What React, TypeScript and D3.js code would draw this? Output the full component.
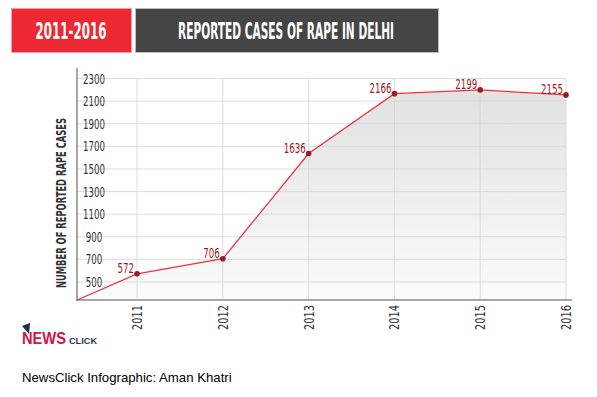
import React from 'react'
import * as d3 from 'd3'

const years = [2011, 2012, 2013, 2014, 2015, 2016]
const cases = [572, 706, 1636, 2166, 2199, 2155]
const yTicks = [500, 700, 900, 1100, 1300, 1500, 1700, 1900, 2100, 2300]

const condensed = "'Liberation Sans Narrow', 'DejaVu Sans Condensed', 'Roboto', sans-serif"

// squeeze digits to the narrow look of the original
const digitWidth = (s: string | number, w: number) => String(s).length * w

const App = () => {
  const W = 597
  const H = 397
  const left = 77
  const right = 566
  const top = 78.5
  const bottom = 300

  // first year sits a bit in from the axis
  const x = d3.scaleLinear().domain([2010.3, 2016]).range([left, right])
  const y = d3.scaleLinear().domain([500, 2300]).range([282, top])

  const pts: [number, number][] = years.map((yr, i) => [x(yr), y(cases[i])])
  // line begins at the origin of the axes
  const path: [number, number][] = [[left, bottom], ...pts]

  const line = d3.line<[number, number]>()
  const area = d3
    .area<[number, number]>()
    .x((d) => d[0])
    .y0(bottom)
    .y1((d) => d[1])

  const darkRed = '#9a1c20'

  return (
    <svg
      width={W}
      height={H}
      style={{ position: 'absolute', left: 0, top: 0, background: '#fff' }}
    >
      <defs>
        <linearGradient id="fade" gradientUnits="userSpaceOnUse" x1="0" y1={top} x2="0" y2={bottom}>
          <stop offset="0" stopColor="#e0e0e0" />
          <stop offset="1" stopColor="#fbfbfb" />
        </linearGradient>
      </defs>

      {/* header */}
      <rect x={11.5} y={8.5} width={120} height={44} fill="#ec2833" stroke="#f5a0a5" />
      <text
        x={71}
        y={39}
        textAnchor="middle"
        fill="#fff"
        fontFamily={condensed}
        fontWeight="bold"
        fontSize={23}
        textLength={71}
        lengthAdjust="spacingAndGlyphs"
      >
        2011-2016
      </text>
      <rect x={135.5} y={8.5} width={303} height={44} fill="#454545" stroke="#bbb" />
      <text
        x={286}
        y={39}
        textAnchor="middle"
        fill="#fff"
        fontFamily={condensed}
        fontWeight="bold"
        fontSize={23}
        textLength={216}
        lengthAdjust="spacingAndGlyphs"
      >
        REPORTED CASES OF RAPE IN DELHI
      </text>

      {/* area under the line */}
      <path d={area(path) || ''} fill="url(#fade)" />

      {/* grid */}
      {yTicks.map((t) => (
        <line key={'h' + t} x1={left} x2={right} y1={y(t)} y2={y(t)} stroke="#d6d6d6" strokeWidth={1} opacity={0.8} />
      ))}
      {years.map((yr) => (
        <line key={'v' + yr} x1={x(yr)} x2={x(yr)} y1={top} y2={bottom} stroke="#d6d6d6" strokeWidth={1} opacity={0.8} />
      ))}

      {/* axes */}
      <line x1={left} x2={left} y1={68} y2={bottom + 1} stroke="#8a8a8a" strokeWidth={1.5} />
      <line x1={left - 1} x2={572} y1={bottom} y2={bottom} stroke="#8a8a8a" strokeWidth={1.5} />

      {yTicks.map((t) => (
        <text
          key={'yl' + t}
          x={94}
          y={y(t) + 5}
          textAnchor="middle"
          fill="#333"
          fontFamily={condensed}
          fontSize={14}
          textLength={digitWidth(t, 5.5)}
          lengthAdjust="spacingAndGlyphs"
        >
          {t}
        </text>
      ))}
      <text
        transform={`translate(66,${203}) rotate(-90)`}
        textAnchor="middle"
        fill="#333"
        fontFamily={condensed}
        fontWeight="bold"
        fontSize={14}
        textLength={170}
        lengthAdjust="spacingAndGlyphs"
      >
        NUMBER OF REPORTED RAPE CASES
      </text>

      {years.map((yr) => (
        <text
          key={'xl' + yr}
          transform={`translate(${x(yr) + 5},${305}) rotate(-90)`}
          textAnchor="end"
          fill="#333"
          fontFamily={condensed}
          fontSize={14.5}
          textLength={25}
          lengthAdjust="spacingAndGlyphs"
        >
          {yr}
        </text>
      ))}

      {/* line + points */}
      <path d={line(path) || ''} fill="none" stroke="#ee3340" strokeWidth={1.3} />
      {pts.map(([px, py], i) => (
        <g key={'p' + i}>
          <circle cx={px} cy={py} r={2.8} fill={darkRed} />
          <text
            x={px - 3}
            y={py - 1}
            textAnchor="end"
            fill={darkRed}
            fontFamily={condensed}
            fontSize={14}
            textLength={digitWidth(cases[i], 5.5)}
            lengthAdjust="spacingAndGlyphs"
          >
            {cases[i]}
          </text>
        </g>
      ))}

      {/* logo */}
      <path d="M22,326 L30,323 L29,334 Z" fill="#1d2d4e" />
      <text x={22} y={344} fill="#d3134a" fontFamily="'Liberation Sans', Arial, sans-serif" fontWeight="bold" fontSize={16} textLength={44} lengthAdjust="spacingAndGlyphs">
        NEWS
      </text>
      <text x={69} y={344} fill="#1f3556" fontFamily="'Liberation Sans', Arial, sans-serif" fontWeight="bold" fontSize={9.5} textLength={28} lengthAdjust="spacingAndGlyphs">
        CLICK
      </text>

      <text x={22} y={382} fill="#000" fontFamily="'Liberation Sans', Arial, sans-serif" fontSize={13.2}>
        NewsClick Infographic: Aman Khatri
      </text>
    </svg>
  )
}

export default App
